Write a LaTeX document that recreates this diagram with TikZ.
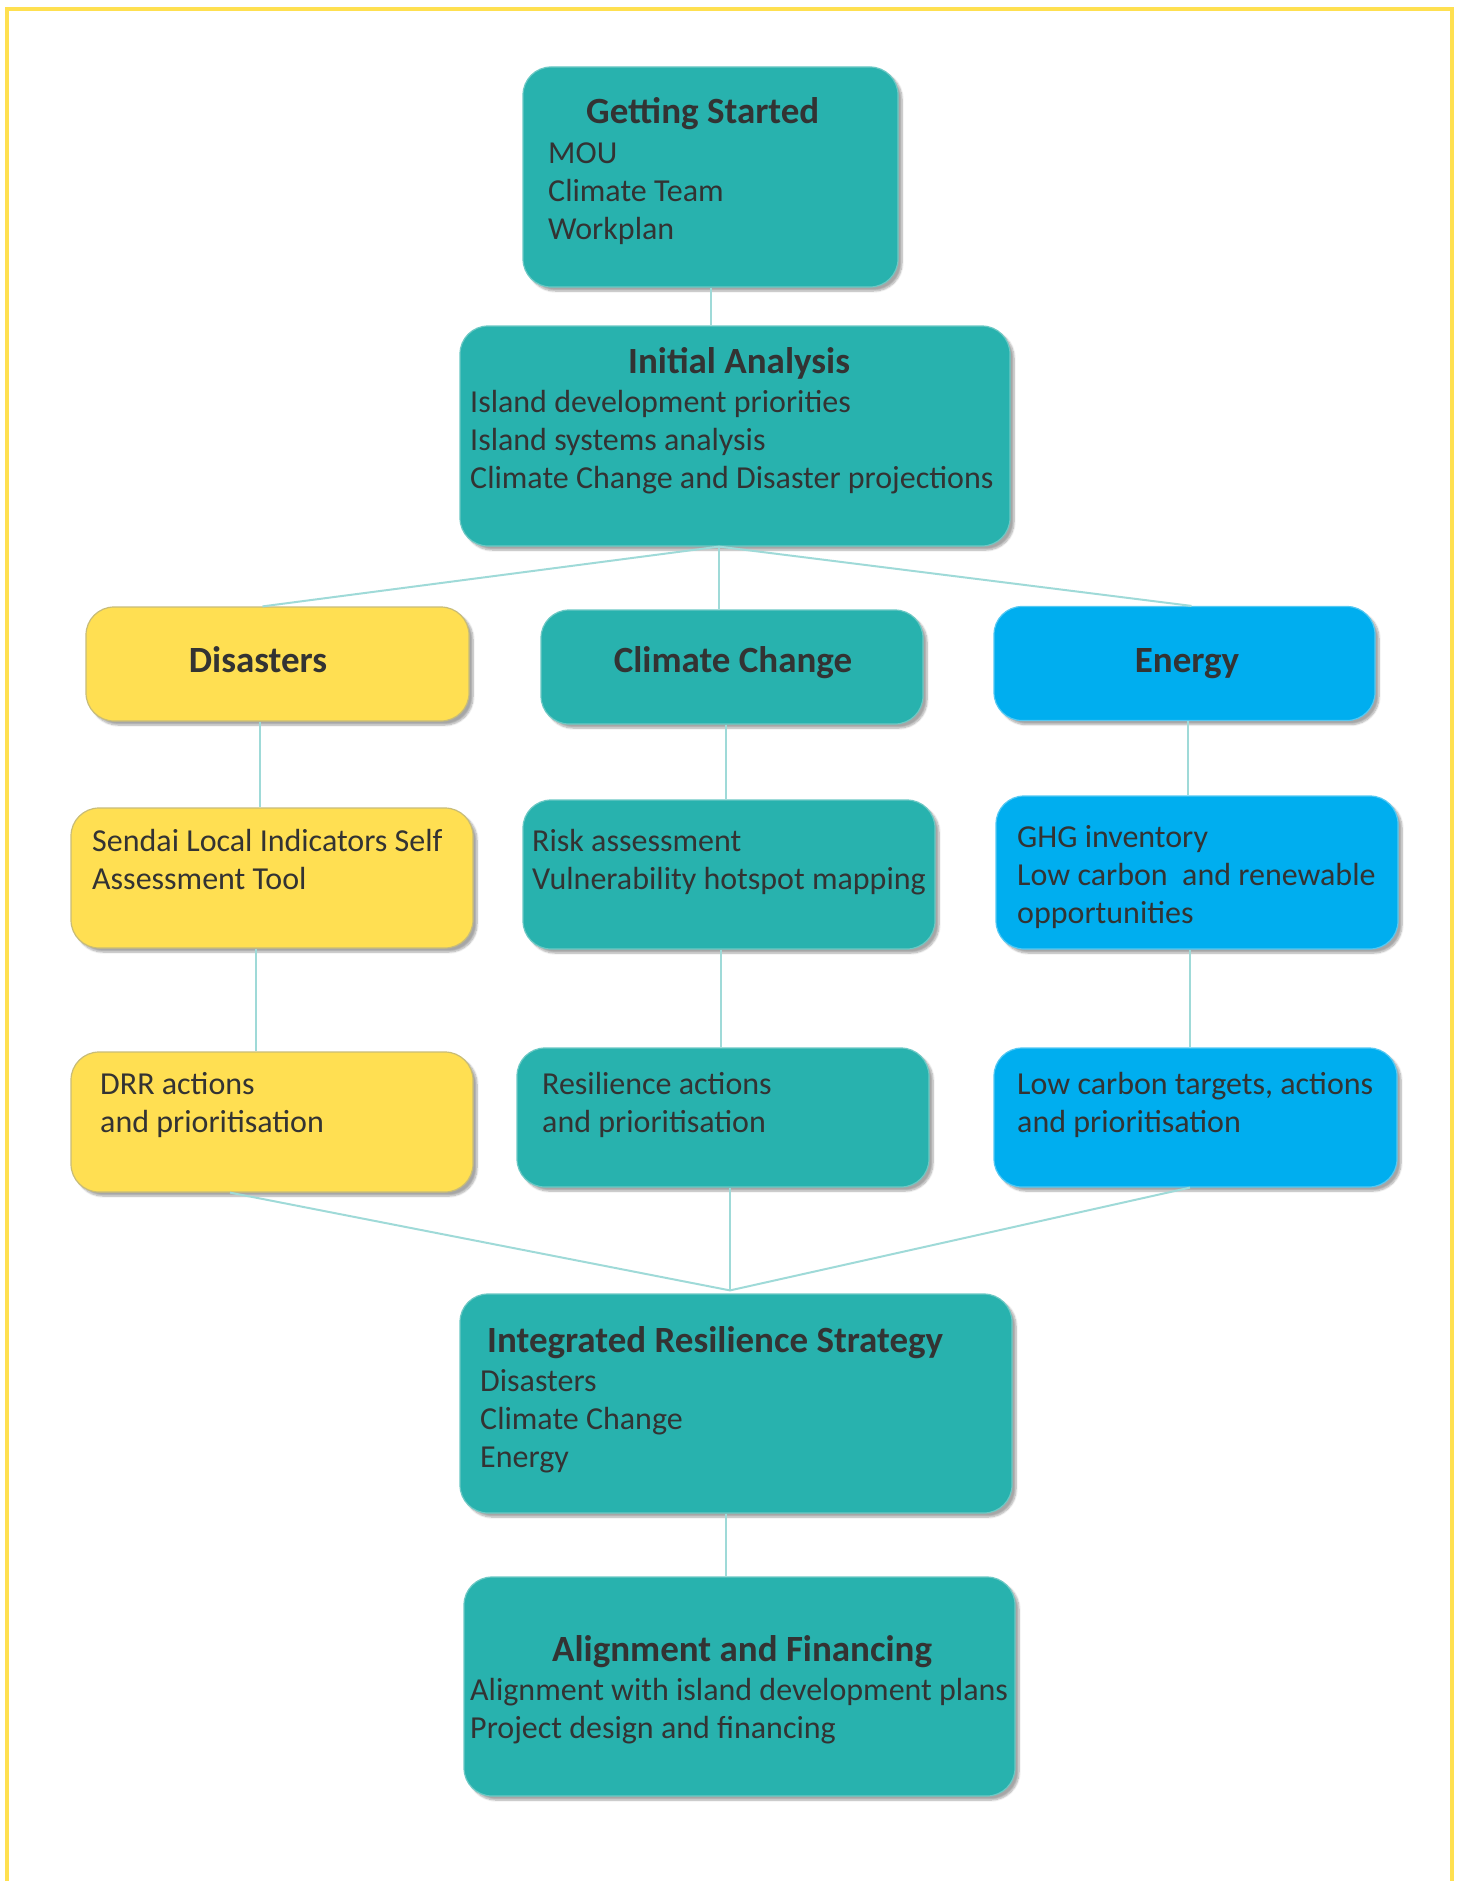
\documentclass[tikz,border=0pt]{standalone}
\usepackage{fontspec}
\setmainfont{Carlito}
\usetikzlibrary{shadows.blur}
\definecolor{tealbox}{HTML}{28B2AE}
\definecolor{tealedge}{HTML}{6CC8C4}
\definecolor{yelbox}{HTML}{FFDF52}
\definecolor{yeledge}{HTML}{C8BC78}
\definecolor{bluebox}{HTML}{00AEEF}
\definecolor{blueedge}{HTML}{55C8F2}
\definecolor{linec}{HTML}{9FDAD8}
\definecolor{txt}{HTML}{333333}
\definecolor{framec}{HTML}{FFE050}
\begin{document}
\begin{tikzpicture}[x=1pt,y=-1pt,
  box/.style={rectangle, rounded corners=28pt, inner sep=0pt, line width=1.2pt,
    blur shadow={shadow xshift=4pt, shadow yshift=-4pt, shadow blur steps=8, shadow opacity=35}},
  tealb/.style={box, fill=tealbox, draw=tealedge},
  yelb/.style={box, fill=yelbox, draw=yeledge},
  blueb/.style={box, fill=bluebox, draw=blueedge},
  body/.style={anchor=base west, inner sep=0pt, align=left, text=txt,
    font=\fontsize{32}{38.4}\selectfont},
  headl/.style={anchor=base west, inner sep=0pt, text=txt,
    font=\fontsize{37}{40}\selectfont\bfseries},
  headc/.style={anchor=base, inner sep=0pt, text=txt,
    font=\fontsize{37}{40}\selectfont\bfseries},
  conn/.style={draw=linec, line width=2pt}]
\useasboundingbox (0,0) rectangle (1461,1881);
\begin{scope}
\clip (0,0) rectangle (1461,1881);
\draw[framec, line width=4.5pt] (7,1950) -- (7,9) -- (1452,9) -- (1452,1950);
\end{scope}

% boxes
\node[tealb, minimum width=375pt, minimum height=220pt] (GS) at (710.5,177) {};
\node[tealb, minimum width=550pt, minimum height=220pt] (IA) at (735,436) {};
\node[yelb, minimum width=383pt, minimum height=114pt] (Dis) at (277.5,664) {};
\node[tealb, minimum width=382pt, minimum height=114pt] (CC) at (732,667) {};
\node[blueb, minimum width=381pt, minimum height=114pt] (En) at (1184.5,663.5) {};
\node[yelb, minimum width=402pt, minimum height=140pt] (Sen) at (272,878) {};
\node[tealb, minimum width=412pt, minimum height=149pt] (Risk) at (729,874.5) {};
\node[blueb, minimum width=402pt, minimum height=153pt] (GHG) at (1197,872.5) {};
\node[yelb, minimum width=402pt, minimum height=140pt] (DRR) at (272,1122) {};
\node[tealb, minimum width=412pt, minimum height=139pt] (Res) at (723,1117.5) {};
\node[blueb, minimum width=403pt, minimum height=139pt] (LowC) at (1195.5,1117.5) {};
\node[tealb, minimum width=552pt, minimum height=219pt] (IRS) at (736,1403.5) {};
\node[tealb, minimum width=551pt, minimum height=219pt] (AF) at (739.5,1686.5) {};

% connectors
\draw[conn] (GS.south) -- (GS.south |- IA.north);
\coordinate (j1) at ([xshift=-16pt]IA.south);
\draw[conn] (j1) -- ([xshift=-15pt]Dis.north);
\draw[conn] (j1) -- (j1 |- CC.north);
\draw[conn] (j1) -- ([xshift=7pt]En.north);
\draw[conn] ([xshift=-18pt]Dis.south) -- ([xshift=-18pt]Dis.south |- Sen.north);
\draw[conn] ([xshift=-6pt]CC.south) -- ([xshift=-6pt]CC.south |- Risk.north);
\draw[conn] ([xshift=3.5pt]En.south) -- ([xshift=3.5pt]En.south |- GHG.north);
\draw[conn] ([xshift=-16pt]Sen.south) -- ([xshift=-16pt]Sen.south |- DRR.north);
\draw[conn] ([xshift=-8pt]Risk.south) -- ([xshift=-8pt]Risk.south |- Res.north);
\draw[conn] ([xshift=-7pt]GHG.south) -- ([xshift=-7pt]GHG.south |- LowC.north);
\coordinate (j2) at ([xshift=-6pt,yshift=3pt]IRS.north);
\draw[conn] ([xshift=-42pt]DRR.south) -- (j2);
\draw[conn] ([xshift=7pt]Res.south) -- (j2);
\draw[conn] ([xshift=-5.5pt]LowC.south) -- (j2);
\draw[conn] ([xshift=-10pt]IRS.south) -- ([xshift=-10pt]IRS.south |- AF.north);

% texts (multi-line nodes: base = last line's baseline)
\node[headl] (GSh) at (586,124) {Getting Started};
\node[body] (GSt) at (548,239.8) {MOU\\Climate Team\\Workplan};
\node[headl] (IAh) at (628,373) {Initial Analysis};
\node[body] (IAt) at (470,488.8) {Island development priorities\\Island systems analysis\\Climate Change and Disaster projections};
\node[headc] (Dish) at (258,672) {Disasters};
\node[headc] (CCh) at (733,672) {Climate Change};
\node[headc] (Enh) at (1187,672) {Energy};
\node[body] (Sent) at (92,889.4) {Sendai Local Indicators Self\\Assessment Tool};
\node[body] (Riskt) at (532,889.4) {Risk assessment\\Vulnerability hotspot mapping};
\node[body] (GHGt) at (1017,923.8) {GHG inventory\\Low carbon\ \ and renewable\\opportunities};
\node[body] (DRRt) at (100,1132.4) {DRR actions\\and prioritisation};
\node[body] (Rest) at (542,1132.4) {Resilience actions\\and prioritisation};
\node[body] (LowCt) at (1017,1132.4) {Low carbon targets, actions\\and prioritisation};
\node[headl] (IRSh) at (487,1352) {Integrated Resilience Strategy};
\node[body] (IRSt) at (480,1467.8) {Disasters\\Climate Change\\Energy};
\node[headl] (AFh) at (552,1661) {Alignment and Financing};
\node[body] (AFt) at (470,1738.4) {Alignment with island development plans\\Project design and financing};
\end{tikzpicture}
\end{document}
